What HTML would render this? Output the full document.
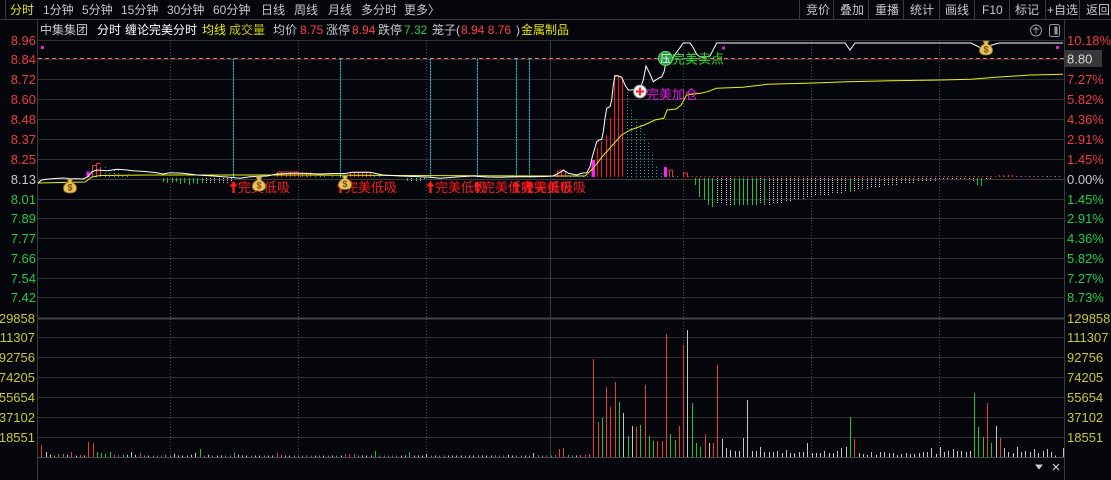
<!DOCTYPE html>
<html><head><meta charset="utf-8">
<style>
html,body{margin:0;padding:0;background:#05060c;width:1111px;height:480px;overflow:hidden}
svg{display:block}
.n{font-size:12px;font-family:"Liberation Sans","Noto Sans CJK SC",sans-serif}
.a{font-size:13px;font-family:"Liberation Sans","Noto Sans CJK SC",sans-serif}
.m{font-size:13px;font-family:"Liberation Sans","Noto Sans CJK SC",sans-serif}
</style></head><body>
<svg width="1111" height="480" viewBox="0 0 1111 480" xmlns="http://www.w3.org/2000/svg">
<rect width="1111" height="480" fill="#05060c"/>

<!-- top nav -->
<path d="M0 19.5H1111M5.5 0V19M799.5 0V19M833.5 0V19M868.5 0V19M903.5 0V19M939.5 0V19M974.5 0V19M1009.5 0V19M1045.5 0V19M1079.5 0V19" stroke="#3a3a3a" stroke-width="1" fill="none"/>
<g class="n" fill="#c8c8c8">
<text x="10" y="14" fill="#e0e020">分时</text>
<text x="43" y="14">1分钟</text>
<text x="82" y="14">5分钟</text>
<text x="121" y="14">15分钟</text>
<text x="167" y="14">30分钟</text>
<text x="213" y="14">60分钟</text>
<text x="261" y="14">日线</text>
<text x="294" y="14">周线</text>
<text x="328" y="14">月线</text>
<text x="361" y="14">多分时</text>
<text x="404" y="14">更多</text>
<text x="428" y="14">〉</text>
<text x="806" y="14">竞价</text>
<text x="840" y="14">叠加</text>
<text x="875" y="14">重播</text>
<text x="910" y="14">统计</text>
<text x="945" y="14">画线</text>
<text x="982" y="14">F10</text>
<text x="1015" y="14">标记</text>
<text x="1047" y="14">+自选</text>
<text x="1086" y="14">返回</text>
</g>

<!-- second row -->
<g class="n">
<text x="40" y="34" fill="#c8c8c8">中集集团</text>
<text x="97" y="34" fill="#ffffff">分时</text>
<text x="125" y="34" fill="#ffffff">缠论完美分时</text>
<text x="202" y="34" fill="#f0f000">均线</text>
<text x="229" y="34" fill="#c8c800">成交量</text>
<text x="273" y="34" fill="#c8c8c8">均价</text>
<text x="300" y="34" fill="#ff4040">8.75</text>
<text x="326" y="34" fill="#c8c8c8">涨停</text>
<text x="352" y="34" fill="#ff4040">8.94</text>
<text x="378" y="34" fill="#c8c8c8">跌停</text>
<text x="404" y="34" fill="#20d040">7.32</text>
<text x="432" y="34" fill="#c8c8c8">笼子(</text>
<text x="461" y="34" fill="#ff4040">8.94 8.76</text>
<text x="516" y="34" fill="#c8c8c8">)</text>
<text x="521" y="34" fill="#e6e600">金属制品</text>
</g>
<circle cx="1036" cy="30.5" r="5.5" fill="none" stroke="#9a9a9a"/>
<path d="M1036 33.5V27.5M1033.5 30L1036 27.5L1038.5 30" stroke="#9a9a9a" fill="none"/>
<rect x="1049.5" y="24.5" width="10" height="12" rx="2" fill="none" stroke="#9a9a9a"/>
<rect x="1054.5" y="26.5" width="3" height="8" fill="#9a9a9a"/>

<!-- borders -->
<path d="M37.5 20V480M1064.5 20V480" stroke="#3a3a3a" stroke-width="1"/>

<!-- horizontal grid -->
<path d="M38 40.5H1064M38 59.5H1064M38 79.5H1064M38 99.5H1064M38 119.5H1064M38 139.5H1064M38 159.5H1064M38 199.5H1064M38 218.5H1064M38 238.5H1064M38 258.5H1064M38 278.5H1064M38 297.5H1064M38 337.5H1064M38 357.5H1064M38 377.5H1064M38 397.5H1064M38 417.5H1064M38 437.5H1064" stroke="#303030" stroke-width="1"/>
<path d="M38 179.5H1064" stroke="#3c3c3c" stroke-width="1"/>
<path d="M38 318.5H1064" stroke="#444" stroke-width="2"/>
<path d="M38 457.5H1064" stroke="#4a4a4a" stroke-width="1"/>

<!-- vertical grid -->
<path d="M170.5 40V457M298.5 40V457M426.5 40V457M683.5 40V457M811.5 40V457M939.5 40V457" stroke="#4a4a4a" stroke-width="1" stroke-dasharray="1,2"/>
<path d="M550.5 40V457" stroke="#3a3a3a" stroke-width="1"/>

<!-- dashed level line -->
<path d="M38 58.5H1064" stroke="#e87070" stroke-width="1" stroke-dasharray="4,3"/>

<!-- cyan signal lines -->
<path d="M233.5 58.5V178M340.5 58.5V178M430.5 58.5V178M477.5 58.5V178M516.5 58.5V178M529.5 58.5V178" stroke="#00e6ff" stroke-width="1" stroke-dasharray="2,1"/>

<!-- axis labels left -->
<g class="a" text-anchor="end">
<text x="36" y="45" fill="#f03c3c">8.96</text>
<text x="36" y="64" fill="#f03c3c">8.84</text>
<text x="36" y="84" fill="#f03c3c">8.72</text>
<text x="36" y="104" fill="#f03c3c">8.60</text>
<text x="36" y="124" fill="#f03c3c">8.48</text>
<text x="36" y="144" fill="#f03c3c">8.37</text>
<text x="36" y="164" fill="#f03c3c">8.25</text>
<text x="36" y="184" fill="#c8c8c8">8.13</text>
<text x="36" y="204" fill="#22cc44">8.01</text>
<text x="36" y="223" fill="#22cc44">7.89</text>
<text x="36" y="243" fill="#22cc44">7.77</text>
<text x="36" y="263" fill="#22cc44">7.66</text>
<text x="36" y="283" fill="#22cc44">7.54</text>
<text x="36" y="302" fill="#22cc44">7.42</text>
<text x="35" y="323" fill="#c8c832">129858</text>
<text x="35" y="342" fill="#c8c832">111307</text>
<text x="35" y="362" fill="#c8c832">92756</text>
<text x="35" y="382" fill="#c8c832">74205</text>
<text x="35" y="402" fill="#c8c832">55654</text>
<text x="35" y="422" fill="#c8c832">37102</text>
<text x="35" y="442" fill="#c8c832">18551</text>
</g>
<!-- axis labels right -->
<g class="a">
<text x="1067" y="45" fill="#f03c3c">10.18%</text>
<text x="1067" y="84" fill="#f03c3c">7.27%</text>
<text x="1067" y="104" fill="#f03c3c">5.82%</text>
<text x="1067" y="124" fill="#f03c3c">4.36%</text>
<text x="1067" y="144" fill="#f03c3c">2.91%</text>
<text x="1067" y="164" fill="#f03c3c">1.45%</text>
<text x="1067" y="184" fill="#c8c8c8">0.00%</text>
<text x="1067" y="204" fill="#22cc44">1.45%</text>
<text x="1067" y="223" fill="#22cc44">2.91%</text>
<text x="1067" y="243" fill="#22cc44">4.36%</text>
<text x="1067" y="263" fill="#22cc44">5.82%</text>
<text x="1067" y="283" fill="#22cc44">7.27%</text>
<text x="1067" y="302" fill="#22cc44">8.73%</text>
<text x="1067" y="323" fill="#c8c832">129858</text>
<text x="1067" y="342" fill="#c8c832">111307</text>
<text x="1067" y="362" fill="#c8c832">92756</text>
<text x="1067" y="382" fill="#c8c832">74205</text>
<text x="1067" y="402" fill="#c8c832">55654</text>
<text x="1067" y="422" fill="#c8c832">37102</text>
<text x="1067" y="442" fill="#c8c832">18551</text>
</g>
<rect x="1065" y="50" width="37" height="17" fill="#383838"/>
<text class="a" x="1067" y="63.5" fill="#d8d8d8">8.80</text>

<!-- volume bars -->
<path fill="none" stroke="#e83a3a" stroke-width="1" d="M41.5 457V445M58.5 457V454M71.5 457V452M80.5 457V454.7M88.5 457V442M93.5 457V443M114.5 457V454.7M118.5 457V454.7M140.5 457V453M157.5 457V455.5M161.5 457V455.5M170.5 457V455.5M204.5 457V455.5M225.5 457V455.5M251.5 457V455.5M277.5 457V453M281.5 457V454.7M294.5 457V455.5M306.5 457V455.5M311.5 457V455.5M328.5 457V455.5M345.5 457V454M349.5 457V454.7M354.5 457V454M384.5 457V455.5M392.5 457V455.5M439.5 457V455.5M465.5 457V455.5M495.5 457V455M503.5 457V455.5M521.5 457V455.5M538.5 457V455M546.5 457V455.5M555.5 457V455M559.5 457V449M563.5 457V448M580.5 457V455M585.5 457V455M589.5 457V454M593.5 457V359M598.5 457V422M606.5 457V387M610.5 457V407M615.5 457V382M636.5 457V427M645.5 457V385M657.5 457V441M662.5 457V441M666.5 457V334M679.5 457V426M683.5 457V345M705.5 457V434M713.5 457V443M717.5 457V365M854.5 457V439M987.5 457V403M1000.5 457V438"/>
<path fill="none" stroke="#12c83a" stroke-width="1" d="M54.5 457V455.5M63.5 457V454M97.5 457V452M101.5 457V453M105.5 457V453.7M110.5 457V452M123.5 457V454.7M144.5 457V455.5M153.5 457V455.5M165.5 457V454.7M200.5 457V449M212.5 457V455.5M230.5 457V455.5M234.5 457V452.7M264.5 457V455.5M298.5 457V455.5M302.5 457V455.5M319.5 457V455.5M336.5 457V455.5M358.5 457V455.5M375.5 457V451M379.5 457V455.5M388.5 457V455.5M396.5 457V455.5M409.5 457V452M431.5 457V455.5M444.5 457V455.5M478.5 457V455M499.5 457V455.5M516.5 457V455.5M529.5 457V455.5M542.5 457V455.5M551.5 457V455.5M568.5 457V455M572.5 457V455.5M602.5 457V418M619.5 457V402M628.5 457V436M640.5 457V425M649.5 457V436M653.5 457V441M670.5 457V434M675.5 457V440M692.5 457V403M696.5 457V443M700.5 457V447M850.5 457V417M974.5 457V393M978.5 457V427M983.5 457V437M991.5 457V443"/>
<path fill="none" stroke="#c4c4cc" stroke-width="1" d="M46.5 457V452M50.5 457V454.7M67.5 457V454.7M76.5 457V455.5M84.5 457V455.5M127.5 457V454.7M131.5 457V452M135.5 457V454.7M148.5 457V455.5M174.5 457V453.7M178.5 457V455.5M182.5 457V455.5M187.5 457V455.5M191.5 457V454.7M195.5 457V452.7M208.5 457V454.7M217.5 457V455.5M221.5 457V455.5M238.5 457V454.7M242.5 457V455.5M246.5 457V455.5M255.5 457V455.5M259.5 457V455.5M268.5 457V455.5M272.5 457V455.5M285.5 457V455.5M289.5 457V455.5M315.5 457V455.5M323.5 457V455.5M332.5 457V455.5M341.5 457V455.5M362.5 457V455.5M366.5 457V455.5M371.5 457V455.5M401.5 457V455.5M405.5 457V455.5M414.5 457V455.5M418.5 457V455.5M422.5 457V455.5M426.5 457V454M435.5 457V455.5M448.5 457V455.5M452.5 457V455.5M456.5 457V455.5M461.5 457V455.5M469.5 457V455.5M473.5 457V455.5M482.5 457V455.5M486.5 457V455.5M491.5 457V455.5M508.5 457V455M512.5 457V455.5M525.5 457V455.5M533.5 457V453M576.5 457V455.5M623.5 457V413M632.5 457V426M687.5 457V330M709.5 457V443M722.5 457V439M726.5 457V448M730.5 457V450M735.5 457V451M739.5 457V451M743.5 457V438M747.5 457V400M752.5 457V451M756.5 457V451M760.5 457V447M764.5 457V452M769.5 457V452M773.5 457V452M777.5 457V451M782.5 457V453M786.5 457V450M790.5 457V453M794.5 457V453M799.5 457V452M803.5 457V452M807.5 457V443M812.5 457V453M816.5 457V453M820.5 457V453M824.5 457V451M829.5 457V453M833.5 457V453M837.5 457V451M841.5 457V448M846.5 457V447M859.5 457V453M863.5 457V454M867.5 457V455M871.5 457V452M876.5 457V455M880.5 457V452M884.5 457V452M889.5 457V453M893.5 457V453M897.5 457V455M901.5 457V454M906.5 457V453M910.5 457V454M914.5 457V454M919.5 457V453M923.5 457V452M927.5 457V452M931.5 457V448M936.5 457V454M940.5 457V447M944.5 457V452M948.5 457V451M953.5 457V449M957.5 457V451M961.5 457V451M966.5 457V452M970.5 457V451M996.5 457V426M1004.5 457V448M1008.5 457V452M1013.5 457V453M1017.5 457V447M1021.5 457V452M1025.5 457V451M1030.5 457V452M1034.5 457V449M1038.5 457V453M1043.5 457V451M1047.5 457V449M1051.5 457V452M1055.5 457V455.5M1063.5 457V448"/>

<!-- indicator bars (price pane) -->
<path fill="none" stroke="#d03030" stroke-width="1" stroke-dasharray="1.5,2.77" d="M683 176.5H1063"/>
<path fill="none" stroke="#ff2a2a" stroke-width="1" d="M92.5 177V165M96.5 177V163.5M100.5 177V167M92.5 165.5H96.5M96.5 163.5H100.5M277.5 177V172M281.5 177V172M286.5 177V173M290.5 177V172M294.5 177V173M298.5 177V172M277.5 172H298.5M302.5 177V171.5M306.5 177V172M310.5 177V172M350.5 177V172.7M354.5 177V172.7M358.5 177V173M362.5 177V172.7M366.5 177V173M370.5 177V173M350.5 172.5H370.5M557.5 177V170.7M561.5 177V171M565.5 177V171M557.5 171H565.5M669.5 177V170M672.5 177V170M669.5 170H672.5M683.5 177V173M687.5 177V173M683.5 173H687.5M999.5 177V175M1003.5 177V175M1008.5 177V175M1012.5 177V175"/>
<path fill="none" stroke="#ff1a1a" stroke-width="1" d="M597.5 177V148M601.5 177V141.5M606.5 177V135M610.5 177V118M614.5 177V75.5M618.5 177V76.5M622.5 177V80M614.5 75.5H618.5M618.5 77H622.5"/>
<rect x="86.5" y="171.5" width="3" height="5.5" fill="#ff20ff"/>
<rect x="591.5" y="160" width="3.5" height="17" fill="#ff20ff"/>
<rect x="664" y="167" width="3" height="10" fill="#ff20ff"/>
<path fill="none" stroke="#1ca4ae" stroke-width="1" stroke-dasharray="1,2" d="M105.5 177V166.7M109.5 177V170M114.5 177V169M118.5 177V170M122.5 177V174M127.5 177V174M300.5 177V173M307.5 177V173M315.5 177V174M320.5 177V174M324.5 177V174M332.5 177V174M374.5 177V174M379.5 177V174M570.5 177V174M574.5 177V175M578.5 177V174M583.5 177V174M587.5 177V174M627.5 177V92M631.5 177V110M636.5 177V117M640.5 177V123M644.5 177V132M648.5 177V142M652.5 177V155M656.5 177V165M661.5 177V173M673.5 177V175M677.5 177V176M1016.5 177V175M1021.5 177V175M1029.5 177V175M1038.5 177V175M1047.5 177V175M1055.5 177V175"/>
<path fill="none" stroke="#20c040" stroke-width="1" d="M163.5 178V182M167.5 178V183M172.5 178V183M176.5 178V182M180.5 178V184M184.5 178V183M189.5 178V185M193.5 178V183M197.5 178V184M202.5 178V183M407.5 178V181M416.5 178V181M695.5 178V185M699.5 178V197M704.5 178V200M708.5 178V205M712.5 178V207M734.5 178V205M739.5 178V205M743.5 178V205M747.5 178V205M752.5 178V205M756.5 178V205M764.5 178V205M850.5 178V192M977.5 178V185M981.5 178V186"/>
<path fill="none" stroke="#c8c8c8" stroke-width="1" stroke-dasharray="1,1" d="M206.5 178V183M210.5 178V183M214.5 178V184M219.5 178V183M223.5 178V184M227.5 178V183M231.5 178V182M411.5 178V181M420.5 178V181M424.5 178V180M717.5 178V203M721.5 178V204M726.5 178V205M730.5 178V205M760.5 178V204M769.5 178V205M773.5 178V204M777.5 178V203M781.5 178V203M786.5 178V202M790.5 178V201M794.5 178V200M798.5 178V200M803.5 178V199M807.5 178V198M811.5 178V197M815.5 178V196M820.5 178V196M824.5 178V195M828.5 178V195M832.5 178V194M837.5 178V194M841.5 178V193M845.5 178V192M854.5 178V191M858.5 178V190M862.5 178V190M867.5 178V189M871.5 178V188M875.5 178V187M879.5 178V187M884.5 178V186M888.5 178V186M892.5 178V185M896.5 178V185M901.5 178V184M905.5 178V184M909.5 178V183M913.5 178V183M918.5 178V182M922.5 178V182M926.5 178V181M930.5 178V181M935.5 178V181M939.5 178V180M943.5 178V180M947.5 178V180M952.5 178V180M956.5 178V180M960.5 178V180M964.5 178V180M969.5 178V180M973.5 178V181M986.5 178V180M990.5 178V179.5"/>

<!-- average line -->
<polyline fill="none" stroke="#f0f000" stroke-width="1" points="38,183 85,182 92,177 100,175.5 150,175 300,175 400,175.5 550,176 585,176 593.4,168 602.2,156.7 612.7,145 621.5,135 630.3,130 644.3,125 654.9,120 663.7,118.3 667.2,110 676,109 681.2,105 686.5,95 700.5,93.3 707.6,91.7 716.4,88.3 742.7,87.3 767.3,84.3 806,83.3 848,81.7 890.3,80.7 941.2,80 971,79.3 995.7,77.3 1030.8,75 1063,74.3"/>
<!-- price line -->
<polyline fill="none" stroke="#ffffff" stroke-width="1" points="38,183 41.7,180 46.7,179.3 55,178.5 63,178 70,178.5 83,179 88,176.7 92,171.7 97,170 107,170.7 117,169.3 125,169.8 133,170.7 145,171.5 157,172.7 163,174 170,172.7 183,173.3 197,175 213,176 230,177.3 240,178.3 250,176.7 267,176 277,174 293,173.3 300,173.3 320,174 335,173.5 345,173.5 352,172.3 370,172.3 383,175 400,176 415,176.5 430,177.3 440,178.3 460,176.7 473,176 487,177 500,177.3 520,176.7 533,176.7 545,176.5 553,176 560,172.5 563.3,170 568.3,173.3 576.7,175 581.7,173.3 586.7,172.7 590,166.7 592.3,156.7 594.3,150 596.7,141.7 599.3,140 601.7,139.3 603.3,131.7 605,118.3 606.7,108.3 610,106.7 611.7,100 613.3,85 615,75.7 618.3,76 621.7,77.3 625,85 628.3,90 631.7,90 635,89.3 640,88.3 643.3,80 646,66 650,74 653.3,81.7 658.3,78.3 661.7,76.7 664,72 666,62 670,62.7 676,53 680,47.7 683.3,43 690,43 693.3,47.7 696.7,54.3 700,57 705,57 710,56 716.7,43 845,43 850,50 855,43 971,43 981,48 992,45 999,43 1063,43"/>

<!-- magenta markers -->
<rect x="41" y="46" width="3" height="3" fill="#e020e0"/>
<rect x="722" y="46.5" width="3" height="3" fill="#e020e0"/>
<rect x="1056" y="46" width="3" height="3" fill="#e020e0"/>

<!-- buy signals -->
<g fill="#ff1a1a">
<path d="M233.5 181L229.5 186.5H232.3V193H234.7V186.5H237.5Z"/>
<path d="M340.5 181L336.5 186.5H339.3V193H341.7V186.5H344.5Z"/>
<path d="M430.5 181L426.5 186.5H429.3V193H431.7V186.5H434.5Z"/>
<path d="M477.5 181L473.5 186.5H476.3V193H478.7V186.5H481.5Z"/>
<path d="M516.5 181L512.5 186.5H515.3V193H517.7V186.5H520.5Z"/>
<path d="M529.5 181L525.5 186.5H528.3V193H530.7V186.5H533.5Z"/>
</g>
<g class="m" fill="#ff1a1a">
<text x="238" y="192">完美低吸</text>
<text x="345" y="192">完美低吸</text>
<text x="435" y="192">完美低吸</text>
<text x="482" y="192">完美低吸</text>
<text x="521" y="192">完美低吸</text>
<text x="534" y="192">完美低吸</text>
</g>

<!-- money bags -->
<g>
<g transform="translate(70,186)"><path d="M-3,-7 L3,-7 L1.5,-4 Q7,-1.5 6.5,3 Q6,7 0,7 Q-6,7 -6.5,3 Q-7,-1.5 -1.5,-4 Z" fill="#e8c35a" stroke="#9a7420" stroke-width="0.8"/><text x="0" y="4.5" text-anchor="middle" font-size="9" font-family="Liberation Sans, sans-serif" font-weight="bold" fill="#7a4a10">$</text></g>
<g transform="translate(259,184)"><path d="M-3,-7 L3,-7 L1.5,-4 Q7,-1.5 6.5,3 Q6,7 0,7 Q-6,7 -6.5,3 Q-7,-1.5 -1.5,-4 Z" fill="#e8c35a" stroke="#9a7420" stroke-width="0.8"/><text x="0" y="4.5" text-anchor="middle" font-size="9" font-family="Liberation Sans, sans-serif" font-weight="bold" fill="#7a4a10">$</text></g>
<g transform="translate(345,182.5)"><path d="M-3,-7 L3,-7 L1.5,-4 Q7,-1.5 6.5,3 Q6,7 0,7 Q-6,7 -6.5,3 Q-7,-1.5 -1.5,-4 Z" fill="#e8c35a" stroke="#9a7420" stroke-width="0.8"/><text x="0" y="4.5" text-anchor="middle" font-size="9" font-family="Liberation Sans, sans-serif" font-weight="bold" fill="#7a4a10">$</text></g>
<g transform="translate(986,48)"><path d="M-3,-7 L3,-7 L1.5,-4 Q7,-1.5 6.5,3 Q6,7 0,7 Q-6,7 -6.5,3 Q-7,-1.5 -1.5,-4 Z" fill="#e8c35a" stroke="#9a7420" stroke-width="0.8"/><text x="0" y="4.5" text-anchor="middle" font-size="9" font-family="Liberation Sans, sans-serif" font-weight="bold" fill="#7a4a10">$</text></g>
</g>

<!-- sell point -->
<circle cx="665.5" cy="58.5" r="7" fill="#1e9e3c" stroke="#7ad87a" stroke-width="1"/>
<text x="665.5" y="62.5" text-anchor="middle" font-size="10" font-family="Liberation Sans, Noto Sans CJK SC, sans-serif" fill="#ffffff">压</text>
<text class="m" x="672" y="63.5" fill="#22e022">完美卖点</text>

<!-- add position -->
<circle cx="640" cy="91.5" r="6.5" fill="#f4f4f4" stroke="#888" stroke-width="1"/>
<path d="M640 87.5V95.5M636 91.5H644" stroke="#ff1a1a" stroke-width="2"/>
<text class="m" x="646" y="99" fill="#e020e0">完美加仓</text>

<!-- bottom icons -->
<path d="M1035 464.5H1043L1039 469.5Z" fill="#cccccc"/>
<path d="M1053 464L1059 470M1059 464L1053 470" stroke="#cccccc" stroke-width="1.2"/>
</svg>
</body></html>
